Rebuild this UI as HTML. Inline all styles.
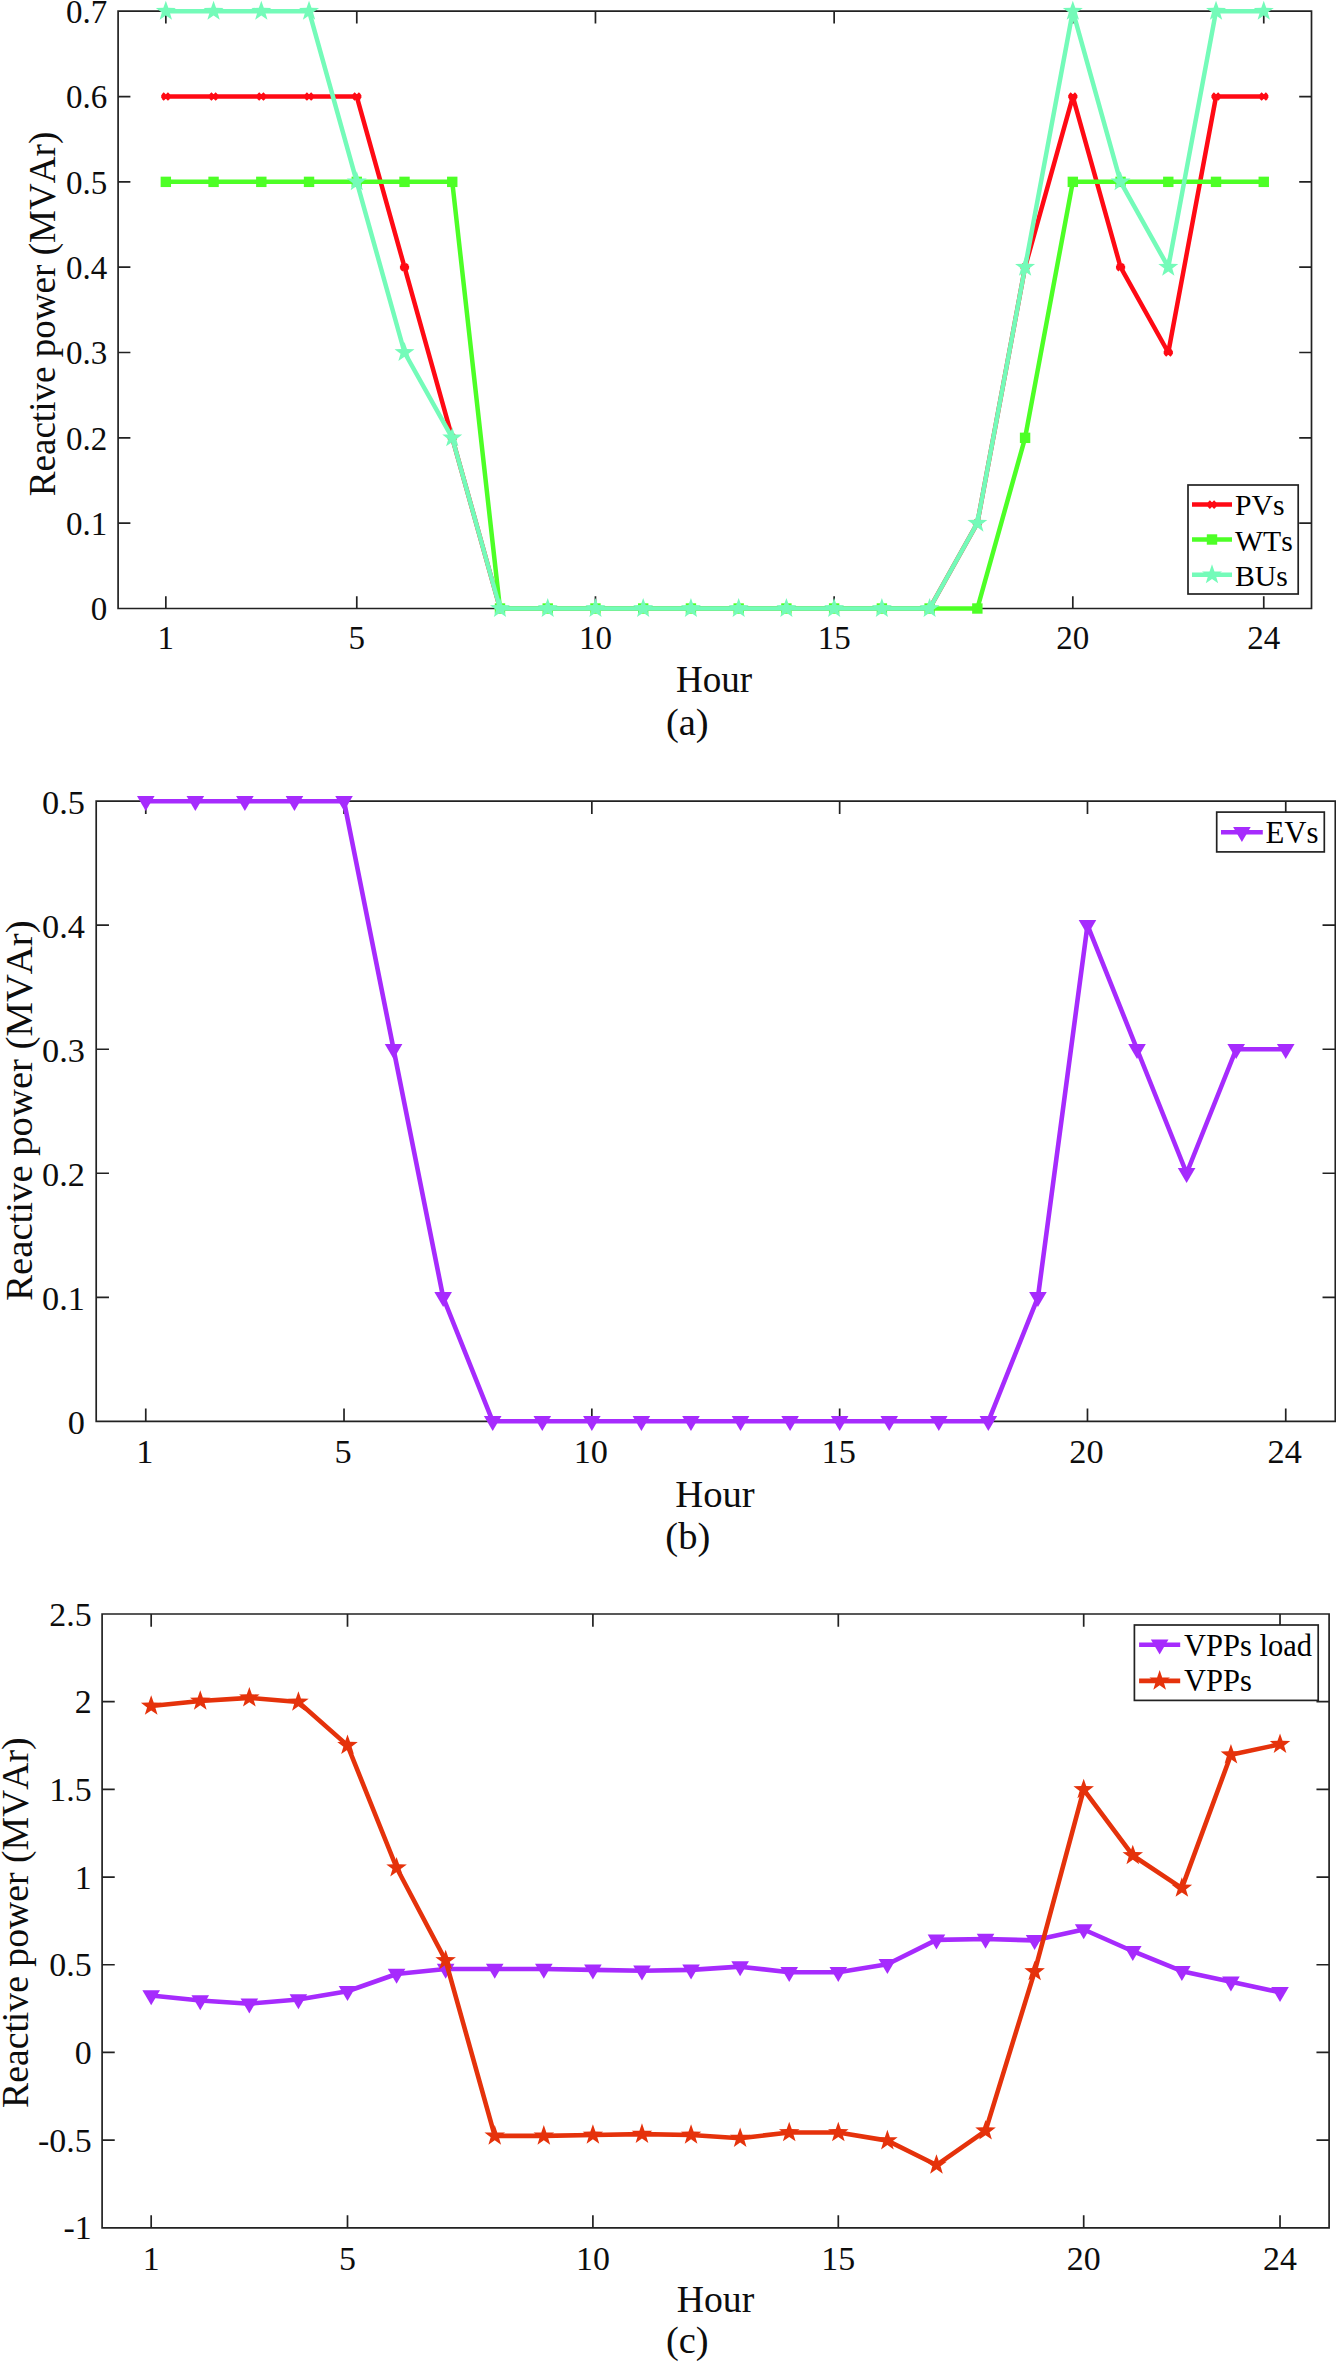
<!DOCTYPE html>
<html lang="en"><head><meta charset="utf-8"><title>Reactive power</title>
<style>
html,body{margin:0;padding:0;background:#fff;}
body{width:1336px;height:2362px;overflow:hidden;}
svg{display:block;font-family:"Liberation Serif","Times New Roman",serif;font-kerning:none;}
</style></head><body>
<svg width="1336" height="2362" viewBox="0 0 1336 2362">
<rect width="1336" height="2362" fill="#fff"/>
<path d="M118.1 11.2H1311.5V608.5H118.1ZM165.84 608.5v-12.3M165.84 11.2v12.3M356.78 608.5v-12.3M356.78 11.2v12.3M595.46 608.5v-12.3M595.46 11.2v12.3M834.14 608.5v-12.3M834.14 11.2v12.3M1072.82 608.5v-12.3M1072.82 11.2v12.3M1263.76 608.5v-12.3M1263.76 11.2v12.3M118.1 608.5h12.3M1311.5 608.5h-12.3M118.1 523.17h12.3M1311.5 523.17h-12.3M118.1 437.84h12.3M1311.5 437.84h-12.3M118.1 352.51h12.3M1311.5 352.51h-12.3M118.1 267.19h12.3M1311.5 267.19h-12.3M118.1 181.86h12.3M1311.5 181.86h-12.3M118.1 96.53h12.3M1311.5 96.53h-12.3M118.1 11.2h12.3M1311.5 11.2h-12.3" fill="none" stroke="#222222" stroke-width="1.7"/>
<g font-size="33" fill="#0d0d0d">
<g text-anchor="middle">
<text x="165.84" y="649.2">1</text>
<text x="356.78" y="649.2">5</text>
<text x="595.46" y="649.2">10</text>
<text x="834.14" y="649.2">15</text>
<text x="1072.82" y="649.2">20</text>
<text x="1263.76" y="649.2">24</text>
</g><g text-anchor="end">
<text x="107.2" y="620.3">0</text>
<text x="107.2" y="534.97">0.1</text>
<text x="107.2" y="449.64">0.2</text>
<text x="107.2" y="364.31">0.3</text>
<text x="107.2" y="278.99">0.4</text>
<text x="107.2" y="193.66">0.5</text>
<text x="107.2" y="108.33">0.6</text>
<text x="107.2" y="23">0.7</text>
</g></g>
<text x="714" y="691.5" font-size="37.1" text-anchor="middle" fill="#0d0d0d">Hour</text>
<text transform="translate(54.7 314) rotate(-90)" font-size="37.1" text-anchor="middle" fill="#0d0d0d">Reactive power (MVAr)</text>
<text x="687.3" y="735.3" font-size="38.5" text-anchor="middle" fill="#0d0d0d">(a)</text>
<polyline points="165.84,96.53 213.57,96.53 261.31,96.53 309.04,96.53 356.78,96.53 404.52,267.19 452.25,437.84 499.99,608.5 547.72,608.5 595.46,608.5 643.2,608.5 690.93,608.5 738.67,608.5 786.4,608.5 834.14,608.5 881.88,608.5 929.61,608.5 977.35,523.17 1025.08,267.19 1072.82,96.53 1120.56,267.19 1168.29,352.51 1216.03,96.53 1263.76,96.53" fill="none" stroke="#ff0a14" stroke-width="4.5" stroke-linejoin="round"/>
<path d="M161.24 96.53H170.44M165.84 94.13V98.93M162.64 93.33L169.04 99.73M162.64 99.73L169.04 93.33" stroke="#ff0a14" stroke-width="3.1" fill="none"/>
<path d="M208.97 96.53H218.17M213.57 94.13V98.93M210.37 93.33L216.77 99.73M210.37 99.73L216.77 93.33" stroke="#ff0a14" stroke-width="3.1" fill="none"/>
<path d="M256.71 96.53H265.91M261.31 94.13V98.93M258.11 93.33L264.51 99.73M258.11 99.73L264.51 93.33" stroke="#ff0a14" stroke-width="3.1" fill="none"/>
<path d="M304.44 96.53H313.64M309.04 94.13V98.93M305.84 93.33L312.24 99.73M305.84 99.73L312.24 93.33" stroke="#ff0a14" stroke-width="3.1" fill="none"/>
<path d="M352.18 96.53H361.38M356.78 94.13V98.93M353.58 93.33L359.98 99.73M353.58 99.73L359.98 93.33" stroke="#ff0a14" stroke-width="3.1" fill="none"/>
<path d="M399.92 267.19H409.12M404.52 264.79V269.59M401.32 263.99L407.72 270.39M401.32 270.39L407.72 263.99" stroke="#ff0a14" stroke-width="3.1" fill="none"/>
<path d="M447.65 437.84H456.85M452.25 435.44V440.24M449.05 434.64L455.45 441.04M449.05 441.04L455.45 434.64" stroke="#ff0a14" stroke-width="3.1" fill="none"/>
<path d="M495.39 608.5H504.59M499.99 606.1V610.9M496.79 605.3L503.19 611.7M496.79 611.7L503.19 605.3" stroke="#ff0a14" stroke-width="3.1" fill="none"/>
<path d="M543.12 608.5H552.32M547.72 606.1V610.9M544.52 605.3L550.92 611.7M544.52 611.7L550.92 605.3" stroke="#ff0a14" stroke-width="3.1" fill="none"/>
<path d="M590.86 608.5H600.06M595.46 606.1V610.9M592.26 605.3L598.66 611.7M592.26 611.7L598.66 605.3" stroke="#ff0a14" stroke-width="3.1" fill="none"/>
<path d="M638.6 608.5H647.8M643.2 606.1V610.9M640 605.3L646.4 611.7M640 611.7L646.4 605.3" stroke="#ff0a14" stroke-width="3.1" fill="none"/>
<path d="M686.33 608.5H695.53M690.93 606.1V610.9M687.73 605.3L694.13 611.7M687.73 611.7L694.13 605.3" stroke="#ff0a14" stroke-width="3.1" fill="none"/>
<path d="M734.07 608.5H743.27M738.67 606.1V610.9M735.47 605.3L741.87 611.7M735.47 611.7L741.87 605.3" stroke="#ff0a14" stroke-width="3.1" fill="none"/>
<path d="M781.8 608.5H791M786.4 606.1V610.9M783.2 605.3L789.6 611.7M783.2 611.7L789.6 605.3" stroke="#ff0a14" stroke-width="3.1" fill="none"/>
<path d="M829.54 608.5H838.74M834.14 606.1V610.9M830.94 605.3L837.34 611.7M830.94 611.7L837.34 605.3" stroke="#ff0a14" stroke-width="3.1" fill="none"/>
<path d="M877.28 608.5H886.48M881.88 606.1V610.9M878.68 605.3L885.08 611.7M878.68 611.7L885.08 605.3" stroke="#ff0a14" stroke-width="3.1" fill="none"/>
<path d="M925.01 608.5H934.21M929.61 606.1V610.9M926.41 605.3L932.81 611.7M926.41 611.7L932.81 605.3" stroke="#ff0a14" stroke-width="3.1" fill="none"/>
<path d="M972.75 523.17H981.95M977.35 520.77V525.57M974.15 519.97L980.55 526.37M974.15 526.37L980.55 519.97" stroke="#ff0a14" stroke-width="3.1" fill="none"/>
<path d="M1020.48 267.19H1029.68M1025.08 264.79V269.59M1021.88 263.99L1028.28 270.39M1021.88 270.39L1028.28 263.99" stroke="#ff0a14" stroke-width="3.1" fill="none"/>
<path d="M1068.22 96.53H1077.42M1072.82 94.13V98.93M1069.62 93.33L1076.02 99.73M1069.62 99.73L1076.02 93.33" stroke="#ff0a14" stroke-width="3.1" fill="none"/>
<path d="M1115.96 267.19H1125.16M1120.56 264.79V269.59M1117.36 263.99L1123.76 270.39M1117.36 270.39L1123.76 263.99" stroke="#ff0a14" stroke-width="3.1" fill="none"/>
<path d="M1163.69 352.51H1172.89M1168.29 350.11V354.91M1165.09 349.31L1171.49 355.71M1165.09 355.71L1171.49 349.31" stroke="#ff0a14" stroke-width="3.1" fill="none"/>
<path d="M1211.43 96.53H1220.63M1216.03 94.13V98.93M1212.83 93.33L1219.23 99.73M1212.83 99.73L1219.23 93.33" stroke="#ff0a14" stroke-width="3.1" fill="none"/>
<path d="M1259.16 96.53H1268.36M1263.76 94.13V98.93M1260.56 93.33L1266.96 99.73M1260.56 99.73L1266.96 93.33" stroke="#ff0a14" stroke-width="3.1" fill="none"/>
<polyline points="165.84,181.86 213.57,181.86 261.31,181.86 309.04,181.86 356.78,181.86 404.52,181.86 452.25,181.86 499.99,608.5 547.72,608.5 595.46,608.5 643.2,608.5 690.93,608.5 738.67,608.5 786.4,608.5 834.14,608.5 881.88,608.5 929.61,608.5 977.35,608.5 1025.08,437.84 1072.82,181.86 1120.56,181.86 1168.29,181.86 1216.03,181.86 1263.76,181.86" fill="none" stroke="#4dff26" stroke-width="4.5" stroke-linejoin="round"/>
<rect x="160.64" y="176.66" width="10.4" height="10.4" fill="#4dff26"/>
<rect x="208.37" y="176.66" width="10.4" height="10.4" fill="#4dff26"/>
<rect x="256.11" y="176.66" width="10.4" height="10.4" fill="#4dff26"/>
<rect x="303.84" y="176.66" width="10.4" height="10.4" fill="#4dff26"/>
<rect x="351.58" y="176.66" width="10.4" height="10.4" fill="#4dff26"/>
<rect x="399.32" y="176.66" width="10.4" height="10.4" fill="#4dff26"/>
<rect x="447.05" y="176.66" width="10.4" height="10.4" fill="#4dff26"/>
<rect x="494.79" y="603.3" width="10.4" height="10.4" fill="#4dff26"/>
<rect x="542.52" y="603.3" width="10.4" height="10.4" fill="#4dff26"/>
<rect x="590.26" y="603.3" width="10.4" height="10.4" fill="#4dff26"/>
<rect x="638" y="603.3" width="10.4" height="10.4" fill="#4dff26"/>
<rect x="685.73" y="603.3" width="10.4" height="10.4" fill="#4dff26"/>
<rect x="733.47" y="603.3" width="10.4" height="10.4" fill="#4dff26"/>
<rect x="781.2" y="603.3" width="10.4" height="10.4" fill="#4dff26"/>
<rect x="828.94" y="603.3" width="10.4" height="10.4" fill="#4dff26"/>
<rect x="876.68" y="603.3" width="10.4" height="10.4" fill="#4dff26"/>
<rect x="924.41" y="603.3" width="10.4" height="10.4" fill="#4dff26"/>
<rect x="972.15" y="603.3" width="10.4" height="10.4" fill="#4dff26"/>
<rect x="1019.88" y="432.64" width="10.4" height="10.4" fill="#4dff26"/>
<rect x="1067.62" y="176.66" width="10.4" height="10.4" fill="#4dff26"/>
<rect x="1115.36" y="176.66" width="10.4" height="10.4" fill="#4dff26"/>
<rect x="1163.09" y="176.66" width="10.4" height="10.4" fill="#4dff26"/>
<rect x="1210.83" y="176.66" width="10.4" height="10.4" fill="#4dff26"/>
<rect x="1258.56" y="176.66" width="10.4" height="10.4" fill="#4dff26"/>
<polyline points="165.84,11.2 213.57,11.2 261.31,11.2 309.04,11.2 356.78,181.86 404.52,352.51 452.25,437.84 499.99,608.5 547.72,608.5 595.46,608.5 643.2,608.5 690.93,608.5 738.67,608.5 786.4,608.5 834.14,608.5 881.88,608.5 929.61,608.5 977.35,523.17 1025.08,267.19 1072.82,11.2 1120.56,181.86 1168.29,267.19 1216.03,11.2 1263.76,11.2" fill="none" stroke="#74fbb9" stroke-width="4.5" stroke-linejoin="round"/>
<polygon points="165.84,0.7 168.3,7.8 175.82,7.96 169.83,12.5 172.01,19.69 165.84,15.4 159.66,19.69 161.84,12.5 155.85,7.96 163.37,7.8" fill="#74fbb9"/>
<polygon points="213.57,0.7 216.04,7.8 223.56,7.96 217.57,12.5 219.74,19.69 213.57,15.4 207.4,19.69 209.58,12.5 203.59,7.96 211.1,7.8" fill="#74fbb9"/>
<polygon points="261.31,0.7 263.78,7.8 271.29,7.96 265.3,12.5 267.48,19.69 261.31,15.4 255.14,19.69 257.31,12.5 251.32,7.96 258.84,7.8" fill="#74fbb9"/>
<polygon points="309.04,0.7 311.51,7.8 319.03,7.96 313.04,12.5 315.22,19.69 309.04,15.4 302.87,19.69 305.05,12.5 299.06,7.96 306.58,7.8" fill="#74fbb9"/>
<polygon points="356.78,171.36 359.25,178.46 366.77,178.61 360.77,183.16 362.95,190.35 356.78,186.06 350.61,190.35 352.79,183.16 346.79,178.61 354.31,178.46" fill="#74fbb9"/>
<polygon points="404.52,342.01 406.98,349.12 414.5,349.27 408.51,353.81 410.69,361.01 404.52,356.71 398.34,361.01 400.52,353.81 394.53,349.27 402.05,349.12" fill="#74fbb9"/>
<polygon points="452.25,427.34 454.72,434.44 462.24,434.6 456.25,439.14 458.42,446.34 452.25,442.04 446.08,446.34 448.26,439.14 442.27,434.6 449.78,434.44" fill="#74fbb9"/>
<polygon points="499.99,598 502.46,605.1 509.97,605.26 503.98,609.8 506.16,616.99 499.99,612.7 493.82,616.99 495.99,609.8 490,605.26 497.52,605.1" fill="#74fbb9"/>
<polygon points="547.72,598 550.19,605.1 557.71,605.26 551.72,609.8 553.9,616.99 547.72,612.7 541.55,616.99 543.73,609.8 537.74,605.26 545.26,605.1" fill="#74fbb9"/>
<polygon points="595.46,598 597.93,605.1 605.45,605.26 599.45,609.8 601.63,616.99 595.46,612.7 589.29,616.99 591.47,609.8 585.47,605.26 592.99,605.1" fill="#74fbb9"/>
<polygon points="643.2,598 645.66,605.1 653.18,605.26 647.19,609.8 649.37,616.99 643.2,612.7 637.02,616.99 639.2,609.8 633.21,605.26 640.73,605.1" fill="#74fbb9"/>
<polygon points="690.93,598 693.4,605.1 700.92,605.26 694.93,609.8 697.1,616.99 690.93,612.7 684.76,616.99 686.94,609.8 680.95,605.26 688.46,605.1" fill="#74fbb9"/>
<polygon points="738.67,598 741.14,605.1 748.65,605.26 742.66,609.8 744.84,616.99 738.67,612.7 732.5,616.99 734.67,609.8 728.68,605.26 736.2,605.1" fill="#74fbb9"/>
<polygon points="786.4,598 788.87,605.1 796.39,605.26 790.4,609.8 792.58,616.99 786.4,612.7 780.23,616.99 782.41,609.8 776.42,605.26 783.94,605.1" fill="#74fbb9"/>
<polygon points="834.14,598 836.61,605.1 844.13,605.26 838.13,609.8 840.31,616.99 834.14,612.7 827.97,616.99 830.15,609.8 824.15,605.26 831.67,605.1" fill="#74fbb9"/>
<polygon points="881.88,598 884.34,605.1 891.86,605.26 885.87,609.8 888.05,616.99 881.88,612.7 875.7,616.99 877.88,609.8 871.89,605.26 879.41,605.1" fill="#74fbb9"/>
<polygon points="929.61,598 932.08,605.1 939.6,605.26 933.61,609.8 935.78,616.99 929.61,612.7 923.44,616.99 925.62,609.8 919.63,605.26 927.14,605.1" fill="#74fbb9"/>
<polygon points="977.35,512.67 979.82,519.77 987.33,519.93 981.34,524.47 983.52,531.67 977.35,527.37 971.18,531.67 973.35,524.47 967.36,519.93 974.88,519.77" fill="#74fbb9"/>
<polygon points="1025.08,256.69 1027.55,263.79 1035.07,263.94 1029.08,268.48 1031.26,275.68 1025.08,271.39 1018.91,275.68 1021.09,268.48 1015.1,263.94 1022.62,263.79" fill="#74fbb9"/>
<polygon points="1072.82,0.7 1075.29,7.8 1082.81,7.96 1076.81,12.5 1078.99,19.69 1072.82,15.4 1066.65,19.69 1068.83,12.5 1062.83,7.96 1070.35,7.8" fill="#74fbb9"/>
<polygon points="1120.56,171.36 1123.02,178.46 1130.54,178.61 1124.55,183.16 1126.73,190.35 1120.56,186.06 1114.38,190.35 1116.56,183.16 1110.57,178.61 1118.09,178.46" fill="#74fbb9"/>
<polygon points="1168.29,256.69 1170.76,263.79 1178.28,263.94 1172.29,268.48 1174.46,275.68 1168.29,271.39 1162.12,275.68 1164.3,268.48 1158.31,263.94 1165.82,263.79" fill="#74fbb9"/>
<polygon points="1216.03,0.7 1218.5,7.8 1226.01,7.96 1220.02,12.5 1222.2,19.69 1216.03,15.4 1209.86,19.69 1212.03,12.5 1206.04,7.96 1213.56,7.8" fill="#74fbb9"/>
<polygon points="1263.76,0.7 1266.23,7.8 1273.75,7.96 1267.76,12.5 1269.94,19.69 1263.76,15.4 1257.59,19.69 1259.77,12.5 1253.78,7.96 1261.3,7.8" fill="#74fbb9"/>
<rect x="1188" y="485" width="110.2" height="109" fill="#fff" stroke="#222222" stroke-width="1.7"/>
<path d="M1192 504.6H1232" stroke="#ff0a14" stroke-width="4.5"/>
<path d="M1207.4 504.6H1216.6M1212 502.2V507M1208.8 501.4L1215.2 507.8M1208.8 507.8L1215.2 501.4" stroke="#ff0a14" stroke-width="3.1" fill="none"/>
<text x="1235" y="515.1" font-size="29.7" fill="#000">PVs</text>
<path d="M1192 539.5H1232" stroke="#4dff26" stroke-width="4.5"/>
<rect x="1206.8" y="534.3" width="10.4" height="10.4" fill="#4dff26"/>
<text x="1235" y="550.7" font-size="29.7" fill="#000">WTs</text>
<path d="M1192 574.8H1232" stroke="#74fbb9" stroke-width="4.5"/>
<polygon points="1212,564.3 1214.47,571.4 1221.99,571.56 1215.99,576.1 1218.17,583.29 1212,579 1205.83,583.29 1208.01,576.1 1202.01,571.56 1209.53,571.4" fill="#74fbb9"/>
<text x="1235" y="585.6" font-size="29.7" fill="#000">BUs</text>
<path d="M96.2 801.2H1335.3V1421.3H96.2ZM145.76 1421.3v-12.77M145.76 801.2v12.77M344.02 1421.3v-12.77M344.02 801.2v12.77M591.84 1421.3v-12.77M591.84 801.2v12.77M839.66 1421.3v-12.77M839.66 801.2v12.77M1087.48 1421.3v-12.77M1087.48 801.2v12.77M1285.74 1421.3v-12.77M1285.74 801.2v12.77M96.2 1421.3h12.77M1335.3 1421.3h-12.77M96.2 1297.28h12.77M1335.3 1297.28h-12.77M96.2 1173.26h12.77M1335.3 1173.26h-12.77M96.2 1049.24h12.77M1335.3 1049.24h-12.77M96.2 925.22h12.77M1335.3 925.22h-12.77M96.2 801.2h12.77M1335.3 801.2h-12.77" fill="none" stroke="#222222" stroke-width="1.7"/>
<g font-size="34.3" fill="#0d0d0d">
<g text-anchor="middle">
<text x="144.76" y="1463.2">1</text>
<text x="343.02" y="1463.2">5</text>
<text x="590.84" y="1463.2">10</text>
<text x="838.66" y="1463.2">15</text>
<text x="1086.48" y="1463.2">20</text>
<text x="1284.74" y="1463.2">24</text>
</g><g text-anchor="end">
<text x="84.9" y="1433.6">0</text>
<text x="84.9" y="1309.58">0.1</text>
<text x="84.9" y="1185.56">0.2</text>
<text x="84.9" y="1061.54">0.3</text>
<text x="84.9" y="937.52">0.4</text>
<text x="84.9" y="813.5">0.5</text>
</g></g>
<text x="715" y="1506.8" font-size="38.7" text-anchor="middle" fill="#0d0d0d">Hour</text>
<text transform="translate(31.6 1110.6) rotate(-90)" font-size="38.7" text-anchor="middle" fill="#0d0d0d">Reactive power (MVAr)</text>
<text x="687.8" y="1549" font-size="38.5" text-anchor="middle" fill="#0d0d0d">(b)</text>
<polyline points="145.76,801.2 195.33,801.2 244.89,801.2 294.46,801.2 344.02,801.2 393.58,1049.24 443.15,1297.28 492.71,1421.3 542.28,1421.3 591.84,1421.3 641.4,1421.3 690.97,1421.3 740.53,1421.3 790.1,1421.3 839.66,1421.3 889.22,1421.3 938.79,1421.3 988.35,1421.3 1037.92,1297.28 1087.48,925.22 1137.04,1049.24 1186.61,1173.26 1236.17,1049.24 1285.74,1049.24" fill="none" stroke="#a62bfd" stroke-width="4.6" stroke-linejoin="round"/>
<polygon points="136.96,795.9 154.56,795.9 145.76,810.9" fill="#a62bfd"/>
<polygon points="186.53,795.9 204.13,795.9 195.33,810.9" fill="#a62bfd"/>
<polygon points="236.09,795.9 253.69,795.9 244.89,810.9" fill="#a62bfd"/>
<polygon points="285.66,795.9 303.26,795.9 294.46,810.9" fill="#a62bfd"/>
<polygon points="335.22,795.9 352.82,795.9 344.02,810.9" fill="#a62bfd"/>
<polygon points="384.78,1043.94 402.38,1043.94 393.58,1058.94" fill="#a62bfd"/>
<polygon points="434.35,1291.98 451.95,1291.98 443.15,1306.98" fill="#a62bfd"/>
<polygon points="483.91,1416 501.51,1416 492.71,1431" fill="#a62bfd"/>
<polygon points="533.48,1416 551.08,1416 542.28,1431" fill="#a62bfd"/>
<polygon points="583.04,1416 600.64,1416 591.84,1431" fill="#a62bfd"/>
<polygon points="632.6,1416 650.2,1416 641.4,1431" fill="#a62bfd"/>
<polygon points="682.17,1416 699.77,1416 690.97,1431" fill="#a62bfd"/>
<polygon points="731.73,1416 749.33,1416 740.53,1431" fill="#a62bfd"/>
<polygon points="781.3,1416 798.9,1416 790.1,1431" fill="#a62bfd"/>
<polygon points="830.86,1416 848.46,1416 839.66,1431" fill="#a62bfd"/>
<polygon points="880.42,1416 898.02,1416 889.22,1431" fill="#a62bfd"/>
<polygon points="929.99,1416 947.59,1416 938.79,1431" fill="#a62bfd"/>
<polygon points="979.55,1416 997.15,1416 988.35,1431" fill="#a62bfd"/>
<polygon points="1029.12,1291.98 1046.72,1291.98 1037.92,1306.98" fill="#a62bfd"/>
<polygon points="1078.68,919.92 1096.28,919.92 1087.48,934.92" fill="#a62bfd"/>
<polygon points="1128.24,1043.94 1145.84,1043.94 1137.04,1058.94" fill="#a62bfd"/>
<polygon points="1177.81,1167.96 1195.41,1167.96 1186.61,1182.96" fill="#a62bfd"/>
<polygon points="1227.37,1043.94 1244.97,1043.94 1236.17,1058.94" fill="#a62bfd"/>
<polygon points="1276.94,1043.94 1294.54,1043.94 1285.74,1058.94" fill="#a62bfd"/>
<rect x="1216.7" y="812.1" width="107.6" height="39.8" fill="#fff" stroke="#222222" stroke-width="1.7"/>
<path d="M1221 832.2H1262.8" stroke="#a62bfd" stroke-width="4.6"/>
<polygon points="1233.1,826.9 1250.7,826.9 1241.9,841.9" fill="#a62bfd"/>
<text x="1265.5" y="842.9" font-size="30.8" fill="#000">EVs</text>
<path d="M102.1 1614H1329.1V2227.8H102.1ZM151.18 2227.8v-12.64M151.18 1614v12.64M347.5 2227.8v-12.64M347.5 1614v12.64M592.9 2227.8v-12.64M592.9 1614v12.64M838.3 2227.8v-12.64M838.3 1614v12.64M1083.7 2227.8v-12.64M1083.7 1614v12.64M1280.02 2227.8v-12.64M1280.02 1614v12.64M102.1 2227.8h12.64M1329.1 2227.8h-12.64M102.1 2140.11h12.64M1329.1 2140.11h-12.64M102.1 2052.43h12.64M1329.1 2052.43h-12.64M102.1 1964.74h12.64M1329.1 1964.74h-12.64M102.1 1877.06h12.64M1329.1 1877.06h-12.64M102.1 1789.37h12.64M1329.1 1789.37h-12.64M102.1 1701.69h12.64M1329.1 1701.69h-12.64M102.1 1614h12.64M1329.1 1614h-12.64" fill="none" stroke="#222222" stroke-width="1.7"/>
<g font-size="33.9" fill="#0d0d0d">
<g text-anchor="middle">
<text x="151.18" y="2269.8">1</text>
<text x="347.5" y="2269.8">5</text>
<text x="592.9" y="2269.8">10</text>
<text x="838.3" y="2269.8">15</text>
<text x="1083.7" y="2269.8">20</text>
<text x="1280.02" y="2269.8">24</text>
</g><g text-anchor="end">
<text x="91.7" y="2239.4">-1</text>
<text x="91.7" y="2151.71">-0.5</text>
<text x="91.7" y="2064.03">0</text>
<text x="91.7" y="1976.34">0.5</text>
<text x="91.7" y="1888.66">1</text>
<text x="91.7" y="1800.97">1.5</text>
<text x="91.7" y="1713.29">2</text>
<text x="91.7" y="1625.6">2.5</text>
</g></g>
<text x="715.5" y="2312.1" font-size="37.7" text-anchor="middle" fill="#0d0d0d">Hour</text>
<text transform="translate(28 1922.7) rotate(-90)" font-size="37.7" text-anchor="middle" fill="#0d0d0d">Reactive power (MVAr)</text>
<text x="687.3" y="2353.3" font-size="38.5" text-anchor="middle" fill="#0d0d0d">(c)</text>
<polyline points="151.18,1995.43 200.26,2000.52 249.34,2003.68 298.42,1999.47 347.5,1991.22 396.58,1974.04 445.66,1968.95 494.74,1968.95 543.82,1968.95 592.9,1969.83 641.98,1970.71 691.06,1969.83 740.14,1966.67 789.22,1972.28 838.3,1972.28 887.38,1964.22 936.46,1939.84 985.54,1938.96 1034.62,1940.37 1083.7,1929.49 1132.78,1951.24 1181.86,1971.23 1230.94,1981.75 1280.02,1992.28" fill="none" stroke="#a62bfd" stroke-width="4.6" stroke-linejoin="round"/>
<polygon points="142.38,1990.13 159.98,1990.13 151.18,2005.13" fill="#a62bfd"/>
<polygon points="191.46,1995.22 209.06,1995.22 200.26,2010.22" fill="#a62bfd"/>
<polygon points="240.54,1998.38 258.14,1998.38 249.34,2013.38" fill="#a62bfd"/>
<polygon points="289.62,1994.17 307.22,1994.17 298.42,2009.17" fill="#a62bfd"/>
<polygon points="338.7,1985.92 356.3,1985.92 347.5,2000.92" fill="#a62bfd"/>
<polygon points="387.78,1968.74 405.38,1968.74 396.58,1983.74" fill="#a62bfd"/>
<polygon points="436.86,1963.65 454.46,1963.65 445.66,1978.65" fill="#a62bfd"/>
<polygon points="485.94,1963.65 503.54,1963.65 494.74,1978.65" fill="#a62bfd"/>
<polygon points="535.02,1963.65 552.62,1963.65 543.82,1978.65" fill="#a62bfd"/>
<polygon points="584.1,1964.53 601.7,1964.53 592.9,1979.53" fill="#a62bfd"/>
<polygon points="633.18,1965.41 650.78,1965.41 641.98,1980.41" fill="#a62bfd"/>
<polygon points="682.26,1964.53 699.86,1964.53 691.06,1979.53" fill="#a62bfd"/>
<polygon points="731.34,1961.37 748.94,1961.37 740.14,1976.37" fill="#a62bfd"/>
<polygon points="780.42,1966.98 798.02,1966.98 789.22,1981.98" fill="#a62bfd"/>
<polygon points="829.5,1966.98 847.1,1966.98 838.3,1981.98" fill="#a62bfd"/>
<polygon points="878.58,1958.92 896.18,1958.92 887.38,1973.92" fill="#a62bfd"/>
<polygon points="927.66,1934.54 945.26,1934.54 936.46,1949.54" fill="#a62bfd"/>
<polygon points="976.74,1933.66 994.34,1933.66 985.54,1948.66" fill="#a62bfd"/>
<polygon points="1025.82,1935.07 1043.42,1935.07 1034.62,1950.07" fill="#a62bfd"/>
<polygon points="1074.9,1924.19 1092.5,1924.19 1083.7,1939.19" fill="#a62bfd"/>
<polygon points="1123.98,1945.94 1141.58,1945.94 1132.78,1960.94" fill="#a62bfd"/>
<polygon points="1173.06,1965.93 1190.66,1965.93 1181.86,1980.93" fill="#a62bfd"/>
<polygon points="1222.14,1976.45 1239.74,1976.45 1230.94,1991.45" fill="#a62bfd"/>
<polygon points="1271.22,1986.98 1288.82,1986.98 1280.02,2001.98" fill="#a62bfd"/>
<polyline points="151.18,1706.07 200.26,1700.98 249.34,1697.83 298.42,1702.04 347.5,1745.35 396.58,1867.76 445.66,1960.53 494.74,2135.91 543.82,2135.91 592.9,2135.03 641.98,2134.15 691.06,2135.03 740.14,2138.19 789.22,2132.57 838.3,2132.57 887.38,2140.64 936.46,2165.02 985.54,2130.82 1034.62,1971.58 1083.7,1789.55 1132.78,1855.49 1181.86,1888.11 1230.94,1754.82 1280.02,1744.3" fill="none" stroke="#e5320b" stroke-width="4.6" stroke-linejoin="round"/>
<polygon points="151.18,1695.27 153.72,1702.58 161.45,1702.73 155.29,1707.4 157.53,1714.81 151.18,1710.39 144.83,1714.81 147.07,1707.4 140.91,1702.73 148.64,1702.58" fill="#e5320b"/>
<polygon points="200.26,1690.18 202.8,1697.49 210.53,1697.65 204.37,1702.32 206.61,1709.72 200.26,1705.3 193.91,1709.72 196.15,1702.32 189.99,1697.65 197.72,1697.49" fill="#e5320b"/>
<polygon points="249.34,1687.03 251.88,1694.33 259.61,1694.49 253.45,1699.16 255.69,1706.56 249.34,1702.15 242.99,1706.56 245.23,1699.16 239.07,1694.49 246.8,1694.33" fill="#e5320b"/>
<polygon points="298.42,1691.24 300.96,1698.54 308.69,1698.7 302.53,1703.37 304.77,1710.77 298.42,1706.36 292.07,1710.77 294.31,1703.37 288.15,1698.7 295.88,1698.54" fill="#e5320b"/>
<polygon points="347.5,1734.55 350.04,1741.86 357.77,1742.02 351.61,1746.69 353.85,1754.09 347.5,1749.67 341.15,1754.09 343.39,1746.69 337.23,1742.02 344.96,1741.86" fill="#e5320b"/>
<polygon points="396.58,1856.96 399.12,1864.27 406.85,1864.43 400.69,1869.1 402.93,1876.5 396.58,1872.08 390.23,1876.5 392.47,1869.1 386.31,1864.43 394.04,1864.27" fill="#e5320b"/>
<polygon points="445.66,1949.73 448.2,1957.04 455.93,1957.2 449.77,1961.87 452.01,1969.27 445.66,1964.85 439.31,1969.27 441.55,1961.87 435.39,1957.2 443.12,1957.04" fill="#e5320b"/>
<polygon points="494.74,2125.11 497.28,2132.41 505.01,2132.57 498.85,2137.24 501.09,2144.64 494.74,2140.23 488.39,2144.64 490.63,2137.24 484.47,2132.57 492.2,2132.41" fill="#e5320b"/>
<polygon points="543.82,2125.11 546.36,2132.41 554.09,2132.57 547.93,2137.24 550.17,2144.64 543.82,2140.23 537.47,2144.64 539.71,2137.24 533.55,2132.57 541.28,2132.41" fill="#e5320b"/>
<polygon points="592.9,2124.23 595.44,2131.53 603.17,2131.69 597.01,2136.36 599.25,2143.77 592.9,2139.35 586.55,2143.77 588.79,2136.36 582.63,2131.69 590.36,2131.53" fill="#e5320b"/>
<polygon points="641.98,2123.35 644.52,2130.66 652.25,2130.81 646.09,2135.49 648.33,2142.89 641.98,2138.47 635.63,2142.89 637.87,2135.49 631.71,2130.81 639.44,2130.66" fill="#e5320b"/>
<polygon points="691.06,2124.23 693.6,2131.53 701.33,2131.69 695.17,2136.36 697.41,2143.77 691.06,2139.35 684.71,2143.77 686.95,2136.36 680.79,2131.69 688.52,2131.53" fill="#e5320b"/>
<polygon points="740.14,2127.39 742.68,2134.69 750.41,2134.85 744.25,2139.52 746.49,2146.92 740.14,2142.51 733.79,2146.92 736.03,2139.52 729.87,2134.85 737.6,2134.69" fill="#e5320b"/>
<polygon points="789.22,2121.77 791.76,2129.08 799.49,2129.24 793.33,2133.91 795.57,2141.31 789.22,2136.89 782.87,2141.31 785.11,2133.91 778.95,2129.24 786.68,2129.08" fill="#e5320b"/>
<polygon points="838.3,2121.77 840.84,2129.08 848.57,2129.24 842.41,2133.91 844.65,2141.31 838.3,2136.89 831.95,2141.31 834.19,2133.91 828.03,2129.24 835.76,2129.08" fill="#e5320b"/>
<polygon points="887.38,2129.84 889.92,2137.15 897.65,2137.3 891.49,2141.98 893.73,2149.38 887.38,2144.96 881.03,2149.38 883.27,2141.98 877.11,2137.3 884.84,2137.15" fill="#e5320b"/>
<polygon points="936.46,2154.22 939,2161.52 946.73,2161.68 940.57,2166.35 942.81,2173.75 936.46,2169.34 930.11,2173.75 932.35,2166.35 926.19,2161.68 933.92,2161.52" fill="#e5320b"/>
<polygon points="985.54,2120.02 988.08,2127.32 995.81,2127.48 989.65,2132.15 991.89,2139.56 985.54,2135.14 979.19,2139.56 981.43,2132.15 975.27,2127.48 983,2127.32" fill="#e5320b"/>
<polygon points="1034.62,1960.78 1037.16,1968.09 1044.89,1968.24 1038.73,1972.92 1040.97,1980.32 1034.62,1975.9 1028.27,1980.32 1030.51,1972.92 1024.35,1968.24 1032.08,1968.09" fill="#e5320b"/>
<polygon points="1083.7,1778.75 1086.24,1786.05 1093.97,1786.21 1087.81,1790.88 1090.05,1798.28 1083.7,1793.87 1077.35,1798.28 1079.59,1790.88 1073.43,1786.21 1081.16,1786.05" fill="#e5320b"/>
<polygon points="1132.78,1844.69 1135.32,1851.99 1143.05,1852.15 1136.89,1856.82 1139.13,1864.22 1132.78,1859.81 1126.43,1864.22 1128.67,1856.82 1122.51,1852.15 1130.24,1851.99" fill="#e5320b"/>
<polygon points="1181.86,1877.31 1184.4,1884.61 1192.13,1884.77 1185.97,1889.44 1188.21,1896.84 1181.86,1892.43 1175.51,1896.84 1177.75,1889.44 1171.59,1884.77 1179.32,1884.61" fill="#e5320b"/>
<polygon points="1230.94,1744.02 1233.48,1751.33 1241.21,1751.49 1235.05,1756.16 1237.29,1763.56 1230.94,1759.14 1224.59,1763.56 1226.83,1756.16 1220.67,1751.49 1228.4,1751.33" fill="#e5320b"/>
<polygon points="1280.02,1733.5 1282.56,1740.81 1290.29,1740.96 1284.13,1745.64 1286.37,1753.04 1280.02,1748.62 1273.67,1753.04 1275.91,1745.64 1269.75,1740.96 1277.48,1740.81" fill="#e5320b"/>
<rect x="1134.4" y="1625" width="183.8" height="75.4" fill="#fff" stroke="#222222" stroke-width="1.7"/>
<path d="M1139.1 1644.8H1180.2" stroke="#a62bfd" stroke-width="4.6"/>
<polygon points="1150.85,1639.5 1168.45,1639.5 1159.65,1654.5" fill="#a62bfd"/>
<text x="1184" y="1655.7" font-size="30.5" fill="#000">VPPs load</text>
<path d="M1139.1 1680.9H1180.2" stroke="#e5320b" stroke-width="4.6"/>
<polygon points="1159.65,1670.1 1162.19,1677.41 1169.92,1677.56 1163.76,1682.23 1166,1689.64 1159.65,1685.22 1153.3,1689.64 1155.54,1682.23 1149.38,1677.56 1157.11,1677.41" fill="#e5320b"/>
<text x="1184" y="1691.4" font-size="30.5" fill="#000">VPPs</text>
</svg>
</body></html>
